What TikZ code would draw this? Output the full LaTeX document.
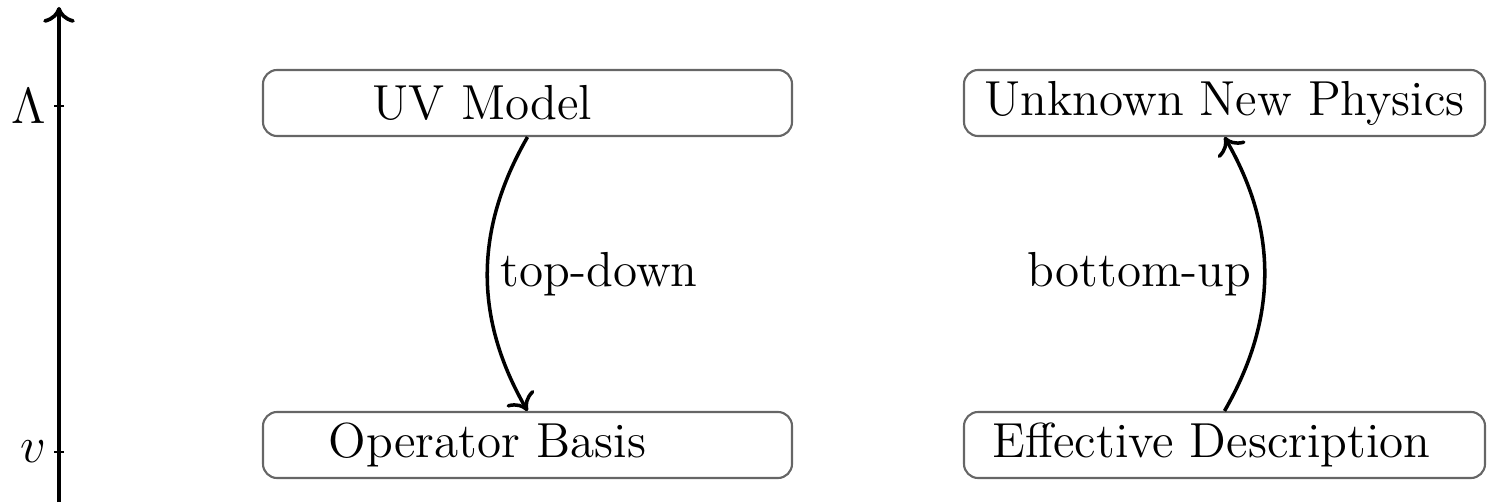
\documentclass[tikz,border=0pt]{standalone}
\usetikzlibrary{arrows.meta,positioning}

\begin{document}
\begin{tikzpicture}[>={To[length=4.5pt,width=9pt]},line width=1.05pt,node distance=3.42cm,
  font=\fontsize{14}{17}\selectfont,
  box/.style={draw=black!60,line width=0.6pt,rounded corners=4pt,minimum width=5.29cm,minimum height=0.66cm,inner sep=0pt},
  pull/.style={execute at begin node={\hspace*{#1}}},
  flow/.style={->,line width=1pt}]
  \useasboundingbox (0,0) rectangle (14.87,5.02);

  % energy scale
  \coordinate (AxisLow) at (0.59,0);
  \coordinate (AxisHigh) at (0.59,4.95);
  \coordinate (Cutoff) at (0.59,3.96);
  \coordinate (Vev) at (0.59,0.50);
  \draw[->] (AxisLow) -- (AxisHigh);
  \draw[line width=0.6pt] ([xshift=0.05cm]Cutoff) -- ([xshift=-0.05cm]Cutoff) node[left,inner sep=2pt] (CutoffLabel) {$\Lambda$};
  \draw[line width=0.6pt] ([xshift=0.05cm]Vev) -- ([xshift=-0.05cm]Vev) node[left,inner sep=2pt] (VevLabel) {$v$};

  \node[box,pull=-0.9cm] (UV) at (5.275,3.99) {UV Model};
  \node[box,pull=-0.8cm] (Basis) [below of=UV] {Operator Basis};
  \node[box,minimum width=5.21cm] (Unknown) [right of=UV,node distance=6.97cm] {Unknown New Physics};
  \node[box,minimum width=5.21cm,pull=-0.26cm] (Effective) [below of=Unknown] {Effective Description};

  \path[flow]
	(UV.south) edge[bend right] node[right] {top-down} (Basis.north)
	(Effective.north) edge[bend right] node[left] {bottom-up} (Unknown.south)
	;

\end{tikzpicture}
\end{document}
